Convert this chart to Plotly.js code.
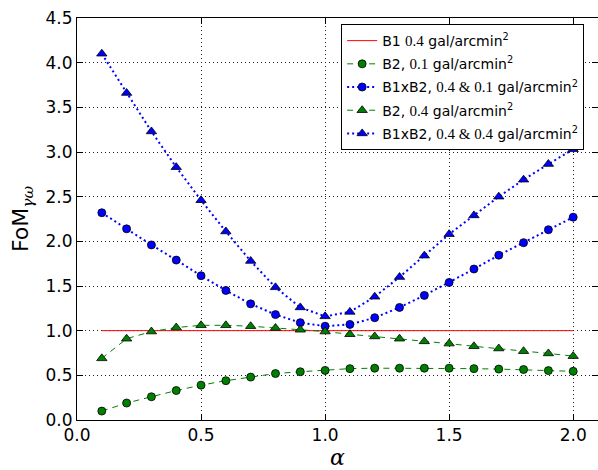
<!DOCTYPE html>
<html><head><meta charset="utf-8">
<script src="https://cdn.plot.ly/plotly-3.0.1.min.js"></script>
<style>body{margin:0;padding:0;background:#fff}</style>
</head><body>
<div id="chart" style="width:598px;height:470px"></div>
<script>
const alpha = [0.1,0.2,0.3,0.4,0.5,0.6,0.7,0.8,0.9,1.0,1.1,1.2,1.3,1.4,1.5,1.6,1.7,1.8,1.9,2.0];
const b1 = [1,1,1,1,1,1,1,1,1,1,1,1,1,1,1,1,1,1,1,1];
const b2_01 = [0.10,0.19,0.26,0.33,0.39,0.44,0.48,0.52,0.54,0.555,0.575,0.58,0.58,0.58,0.58,0.575,0.57,0.565,0.553,0.545];
const b1b2_04_01 = [2.32,2.14,1.96,1.79,1.615,1.45,1.30,1.18,1.09,1.05,1.07,1.145,1.26,1.395,1.54,1.69,1.845,1.985,2.13,2.27];
const b2_04 = [0.69,0.91,0.99,1.035,1.06,1.06,1.05,1.03,1.01,0.99,0.96,0.935,0.91,0.88,0.855,0.825,0.80,0.77,0.745,0.715];
const b1b2_04_04 = [4.10,3.66,3.23,2.83,2.46,2.11,1.78,1.485,1.26,1.16,1.21,1.38,1.60,1.84,2.08,2.29,2.50,2.69,2.865,3.03];
const xTicks = [0.0,0.5,1.0,1.5,2.0];
const yTicks = [0.0,0.5,1.0,1.5,2.0,2.5,3.0,3.5,4.0,4.5];

const M = s => '<span style="font-family:Liberation Serif;font-size:15px">' + s + '</span>';
const names = [
  'B1 ' + M('0.4') + ' gal/arcmin<sup>2</sup>',
  'B2, ' + M('0.1') + ' gal/arcmin<sup>2</sup>',
  'B1xB2, ' + M('0.4 &amp; 0.1') + ' gal/arcmin<sup>2</sup>',
  'B2, ' + M('0.4') + ' gal/arcmin<sup>2</sup>',
  'B1xB2, ' + M('0.4 &amp; 0.4') + ' gal/arcmin<sup>2</sup>'
];
const mk = (sym,col) => ({symbol:sym,size:sym==='circle'?8:9,color:col,line:{color:'black',width:0.8}});
const data = [
  {x:alpha,y:b1,name:names[0],legendgroup:'g1',mode:'lines',line:{color:'red',width:1}},
  {x:alpha,y:b2_01,name:names[1],legendgroup:'g2',mode:'lines+markers',line:{color:'green',width:1,dash:'6px,5px'},marker:mk('circle','green')},
  {x:alpha,y:b1b2_04_01,name:names[2],legendgroup:'g3',mode:'lines+markers',line:{color:'blue',width:2,dash:'2px,3px'},marker:mk('circle','blue')},
  {x:alpha,y:b2_04,name:names[3],legendgroup:'g4',mode:'lines+markers',line:{color:'green',width:1,dash:'6px,5px'},marker:mk('triangle-up','green')},
  {x:alpha,y:b1b2_04_04,name:names[4],legendgroup:'g5',mode:'lines+markers',line:{color:'blue',width:2,dash:'2px,3px'},marker:mk('triangle-up','blue')}
];
const ax = {
  showline:true, mirror:'ticks', linecolor:'black', linewidth:1,
  ticks:'inside', ticklen:6, tickcolor:'black',
  showgrid:true, gridcolor:'#222', gridwidth:1, griddash:'1px,3px',
  zeroline:false, tickfont:{family:'DejaVu Sans',size:17,color:'black'}
};
const layout = {
  width:598, height:470,
  margin:{l:77,r:0,t:18,b:50},
  paper_bgcolor:'white', plot_bgcolor:'white',
  xaxis:Object.assign({}, ax, {range:[0,2.1], tickvals:xTicks, ticktext:xTicks.map(v=>v.toFixed(1)),
    title:{text:'α', font:{family:'DejaVu Serif',size:22,style:'italic',color:'black'}, standoff:6}}),
  yaxis:Object.assign({}, ax, {range:[0,4.5], tickvals:yTicks, ticktext:yTicks.map(v=>v.toFixed(1)),
    title:{text:'FoM<sub><span style="font-family:DejaVu Serif;font-style:italic">γω</span></sub>', font:{family:'DejaVu Sans',size:22,color:'black'}, standoff:10}}),
  showlegend:true,
  legend:{x:0.507, y:0.985, xanchor:'left', yanchor:'top', bgcolor:'white', bordercolor:'black', borderwidth:1,
    font:{family:'DejaVu Sans',size:14,color:'black'}, tracegroupgap:2, itemwidth:30}
};
Plotly.newPlot('chart', data, layout, {displayModeBar:false, staticPlot:true});
</script>
</body></html>
